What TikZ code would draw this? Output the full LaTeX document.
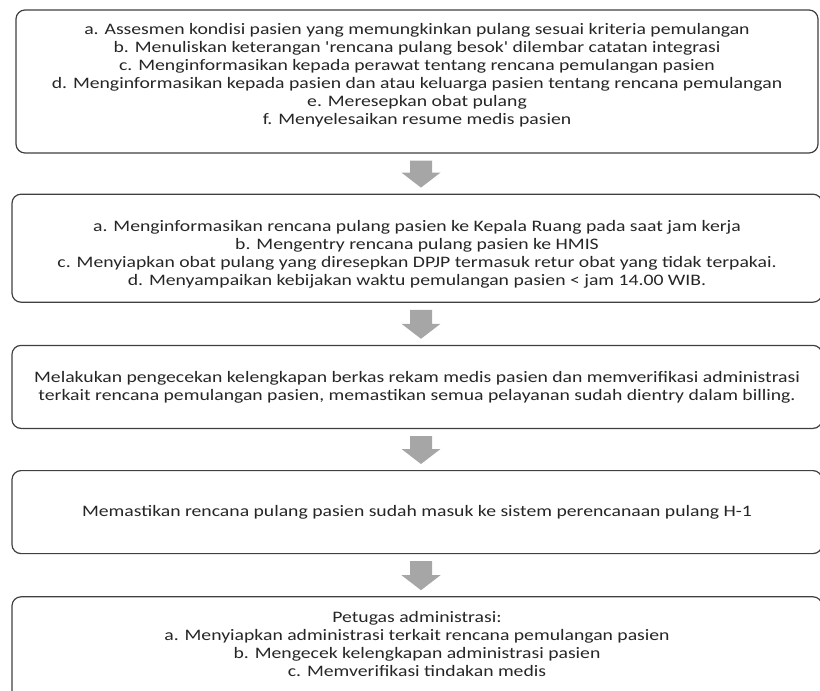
\documentclass[tikz,border=0pt]{standalone}
\usepackage{fontspec}
\setmainfont{Carlito}[FakeStretch=1.23, Ligatures=TeXOff]
\usetikzlibrary{positioning,calc}

\definecolor{boxline}{HTML}{404040}
\definecolor{arrowgray}{HTML}{A6A6A6}
\definecolor{textgray}{HTML}{262626}

\begin{document}
\begin{tikzpicture}[
        x=1pt, y=1pt,
        stepbox/.style={
                rectangle,
                rounded corners=9pt,
                draw=boxline,
                line width=1.2pt,
                fill=white,
                text=textgray,
                align=center,
                inner sep=0pt,
                font=\fontsize{16}{18}\selectfont
            },
        blockarrow/.style={
                fill=arrowgray,
                to path={
                        ($(\tikztostart.south)+(-7,-7)$) -- ($(\tikztostart.south)+(15,-7)$)
                        -- ($(\tikztotarget.north)+(15,21)$) -- ($(\tikztotarget.north)+(23.5,21)$)
                        -- ($(\tikztotarget.north)+(4,6)$) -- ($(\tikztotarget.north)+(-15.5,21)$)
                        -- ($(\tikztotarget.north)+(-7,21)$) -- cycle
                    }
            }
    ]
    \useasboundingbox (0,0) rectangle (820,-691);

    \node[stepbox, minimum width=802pt, minimum height=143pt] (dpjp) at (417,-81.5) {a. Assesmen kondisi pasien yang memungkinkan pulang sesuai kriteria pemulangan\\
        b. Menuliskan keterangan 'rencana pulang besok' dilembar catatan integrasi\\
        c. Menginformasikan kepada perawat tentang rencana pemulangan pasien\\
        d. Menginformasikan kepada pasien dan atau keluarga pasien tentang rencana pemulangan\\
        e. Meresepkan obat pulang\\
        f. Menyelesaikan resume medis pasien\\[-2pt]\mbox{}};
    \node[stepbox, minimum width=810pt, minimum height=108pt] (perawat) [below=40pt of dpjp] {\mbox{}\\[5pt]
        a. Menginformasikan rencana pulang pasien ke Kepala Ruang pada saat jam kerja\\
        b. Mengentry rencana pulang pasien ke HMIS\\
        c. Menyiapkan obat pulang yang diresepkan DPJP termasuk retur obat yang tidak terpakai.\\
        d. Menyampaikan kebijakan waktu pemulangan pasien < jam 14.00 WIB.};
    \node[stepbox, minimum width=810pt, minimum height=83pt] (verifikasi) [below=42pt of perawat] {Melakukan pengecekan kelengkapan berkas rekam medis pasien dan memverifikasi administrasi\\
        terkait rencana pemulangan pasien, memastikan semua pelayanan sudah dientry dalam billing.};
    \node[stepbox, minimum width=810pt, minimum height=83pt] (sistem) [below=41pt of verifikasi] {Memastikan rencana pulang pasien sudah masuk ke sistem perencanaan pulang H-1};
    \node[stepbox, minimum width=810pt, minimum height=110pt] (admin) [below=42pt of sistem] {Petugas administrasi:\\
        a. Menyiapkan administrasi terkait rencana pemulangan pasien\\
        b. Mengecek kelengkapan administrasi pasien\\
        c. Memverifikasi tindakan medis\\[-2pt]\mbox{}};

    \path[blockarrow] (dpjp) to (perawat);
    \path[blockarrow] (perawat) to (verifikasi);
    \path[blockarrow] (verifikasi) to (sistem);
    \path[blockarrow] (sistem) to (admin);
\end{tikzpicture}
\end{document}
